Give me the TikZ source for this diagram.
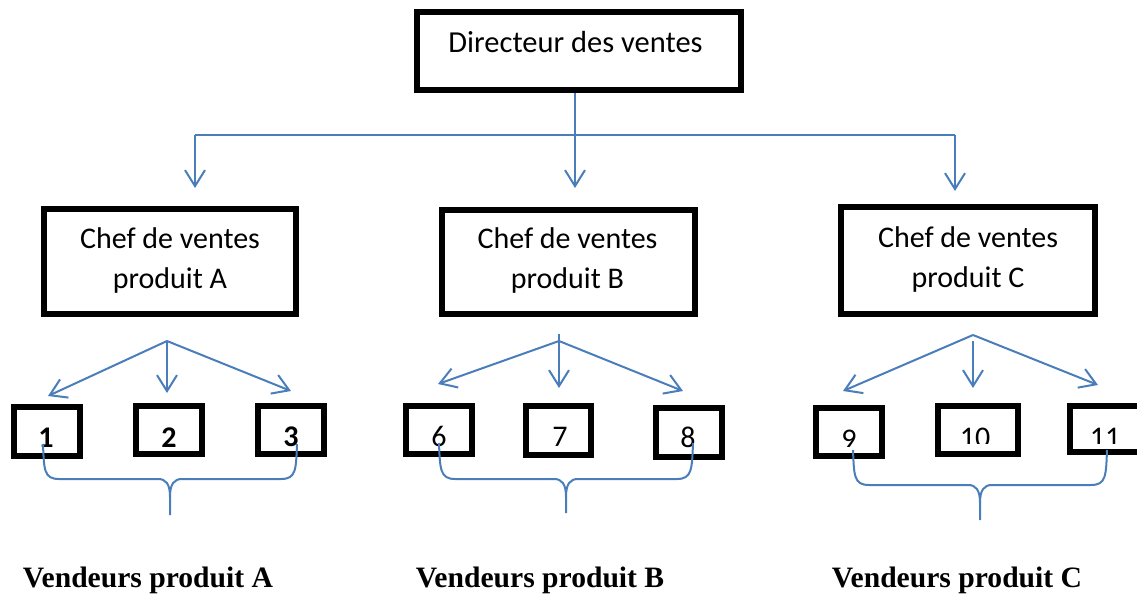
\documentclass[tikz,border=0pt]{standalone}
\usepackage{fontspec}
\setmainfont{Carlito}
\newfontfamily\tnrfont{Liberation Serif}
\usetikzlibrary{arrows.meta}
\definecolor{linkblue}{RGB}{74,126,187}
\tikzset{
  box/.style={draw=black, line width=6pt, inner sep=0pt},
  label/.style={font=\fontsize{30}{36}\selectfont, inner sep=0pt, anchor=base},
  bigtitle/.style={label, font=\fontsize{30.5}{36}\selectfont},
  boldlabel/.style={label, font=\fontsize{30}{36}\selectfont\bfseries},
  grouplabel/.style={inner sep=0pt, anchor=base, font=\tnrfont\fontsize{29.6}{34}\selectfont\bfseries},
  link/.style={draw=linkblue, line width=2pt},
  arrowlink/.style={link, -{Straight Barb[length=16pt,width=20pt]}},
  pics/vbrace/.style n args={3}{code={
    \draw[link] (-#1,0) .. controls (-#1+1,26) and (-#1+1,#2) .. (-#1+16,#2)
      -- (-12,#2) .. controls (-4,#2) and (0,#2+5) .. (0,#2+18) -- (0,#2+#3);
    \draw[link] (#1,0) .. controls (#1-1,26) and (#1-1,#2) .. (#1-16,#2)
      -- (12,#2) .. controls (4,#2) and (0,#2+5) .. (0,#2+18);
  }}
}
\begin{document}
\begin{tikzpicture}[x=1pt, y=-1pt]
\useasboundingbox (0,0) rectangle (1137,605);

% --- top level
\node[box, minimum width=324, minimum height=78] (dir) at (579,51) {};
\node[bigtitle] (dirtext) at (575.5,52) {Directeur des ventes};

% --- sales managers
\node[box, minimum width=252, minimum height=105] (chefA) at (170,261.5) {};
\node[box, minimum width=253, minimum height=104] (chefB) at (568.5,262) {};
\node[box, minimum width=254, minimum height=107] (chefC) at (968,260.5) {};
\node[label] (chefA1) at (170,248) {Chef de ventes};
\node[label] (chefA2) at (170,288) {produit A};
\node[label] (chefB1) at (567.5,248) {Chef de ventes};
\node[label] (chefB2) at (567.5,288) {produit B};
\node[label] (chefC1) at (968,247) {Chef de ventes};
\node[label] (chefC2) at (968,287) {produit C};

% --- distribution from the director
\coordinate (split) at (575,135);
\coordinate (splitL) at (195,135);
\coordinate (splitR) at (955,135);
\coordinate (tipA) at (195,188);
\coordinate (tipB) at (575,188);
\coordinate (tipC) at (955,191);
\draw[link] (dir.south -| split) -- (split);
\draw[link] (splitL) -- (splitR);
\draw[arrowlink] (split) -- (tipB);
\draw[arrowlink] (splitL) -- (tipA);
\draw[arrowlink] (splitR) -- (tipC);

% --- salesmen boxes
\node[box, minimum width=66, minimum height=49] (v1) at (47,431.5) {};
\node[box, minimum width=66, minimum height=48] (v2) at (169,430) {};
\node[box, minimum width=66, minimum height=48] (v3) at (291,430) {};
\node[box, minimum width=66, minimum height=48] (v6) at (439,430) {};
\node[box, minimum width=65, minimum height=49] (v7) at (558.5,430.5) {};
\node[box, minimum width=66, minimum height=49] (v8) at (689,432.5) {};
\node[box, minimum width=66, minimum height=48] (v9) at (849,432) {};
\node[box, minimum width=80, minimum height=48] (v10) at (978,430) {};
\node[box, minimum width=80, minimum height=46] (v11) at (1110,429) {};

\node[boldlabel] (n1) at (46,447) {1};
\node[boldlabel] (n2) at (169,447) {2};
\node[boldlabel] (n3) at (291,446) {3};
\node[label] (n6) at (439,446) {6};
\node[label] (n7) at (560,446) {7};
\node[label] (n8) at (688,447) {8};
\begin{scope}
  \clip (820,400) rectangle (880,446);
  \node[label] (n9) at (849,449) {9};
\end{scope}
\begin{scope}
  \clip (940,400) rectangle (1137,443);
  \node[label] (n10) at (975,447) {10};
  \node[label] (n11) at (1105,447) {11};
\end{scope}

% --- fans to the salesmen
\coordinate (fanA) at (167,341);
\coordinate (fanAl) at (48,396);
\coordinate (fanAm) at (167,393);
\coordinate (fanAr) at (291,391);
\draw[arrowlink] (fanA) -- (fanAl);
\draw[arrowlink] (fanA) -- (fanAm);
\draw[arrowlink] (fanA) -- (fanAr);

\coordinate (fanBtop) at (559,334);
\coordinate (fanB) at (559,341);
\coordinate (fanBl) at (438,384);
\coordinate (fanBm) at (559,388);
\coordinate (fanBr) at (683,391);
\draw[arrowlink] (fanBtop) -- (fanBm);
\draw[arrowlink] (fanB) -- (fanBl);
\draw[arrowlink] (fanB) -- (fanBr);

\coordinate (fanC) at (973,335);
\coordinate (fanCstem) at (973,341);
\coordinate (fanCl) at (843,391);
\coordinate (fanCm) at (973,388);
\coordinate (fanCr) at (1098,385);
\draw[arrowlink] (fanC) -- (fanCl);
\draw[arrowlink] (fanCstem) -- (fanCm);
\draw[arrowlink] (fanC) -- (fanCr);

% --- braces grouping the salesmen
\pic at (170,444) {vbrace={127}{35}{36}};
\pic at (566,443) {vbrace={127}{36}{34}};
\pic at (980,450) {vbrace={127}{35}{35}};

% --- group captions
\node[grouplabel] (gA) at (148,587) {Vendeurs produit A};
\node[grouplabel] (gB) at (540,587) {Vendeurs produit B};
\node[grouplabel] (gC) at (957,587) {Vendeurs produit C};
\end{tikzpicture}
\end{document}
